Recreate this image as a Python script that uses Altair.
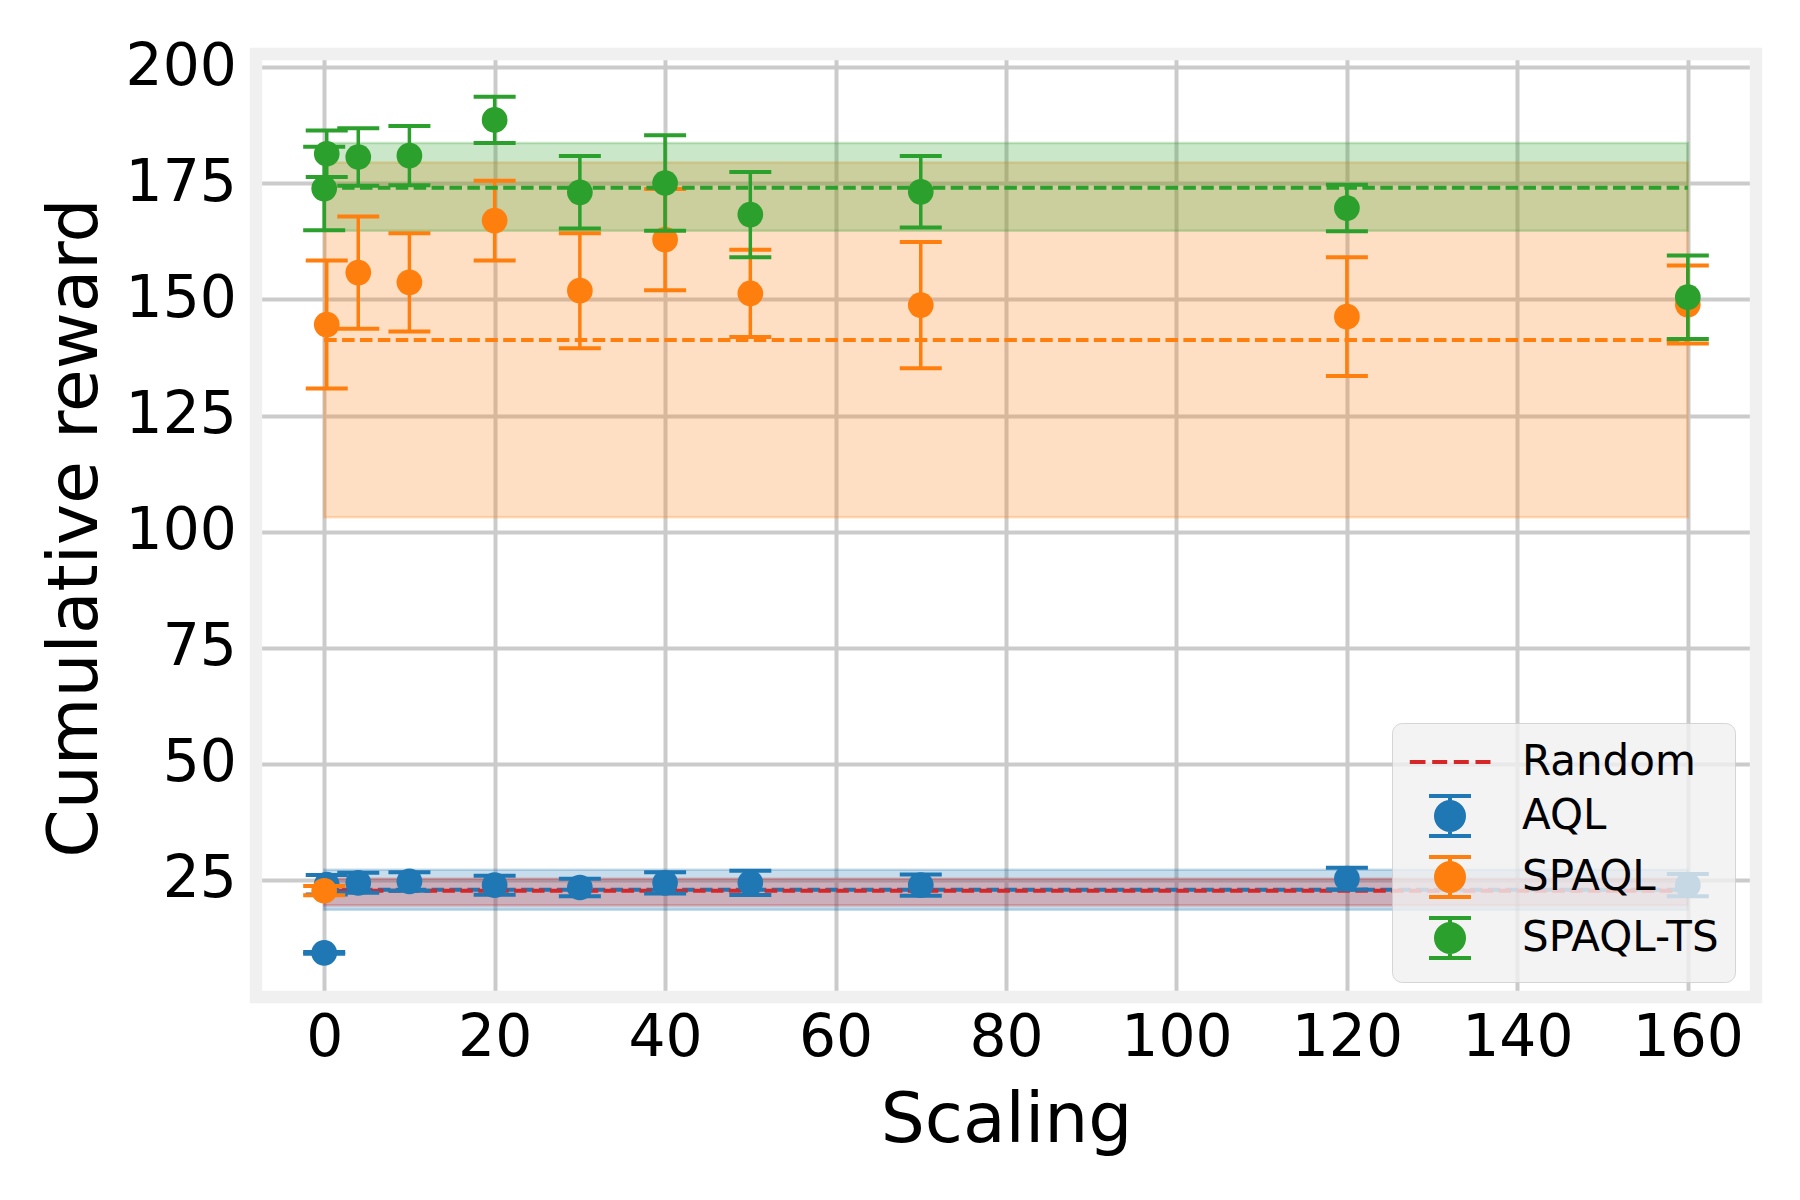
import altair as alt
import pandas as pd

# ---------------- data ----------------
scaling = [0, 0.3, 4, 10, 20, 30, 40, 50, 70, 120, 160]

aql_mean = [9.2, 23.9, 24.3, 24.6, 23.8, 23.3, 24.3, 24.3, 23.8, 25.2, 23.8]
aql_err = [0.2, 2.1, 2.15, 2.0, 2.05, 1.9, 2.3, 2.6, 2.3, 2.35, 2.4]

spaql_mean = [22.6, 144.6, 155.8, 153.7, 167.0, 151.9, 162.9, 151.3, 148.8, 146.3, 148.9]
spaql_err = [1.0, 13.8, 12.1, 10.6, 8.6, 12.4, 10.9, 9.4, 13.6, 12.8, 8.4]

spaqlts_mean = [173.9, 181.4, 180.7, 181.0, 188.7, 173.1, 175.1, 168.3, 173.2, 169.7, 150.5]
spaqlts_err = [9.0, 5.0, 6.2, 6.4, 5.0, 7.8, 10.3, 9.2, 7.7, 5.0, 9.0]

# overall levels (dashed lines) and shaded bands
level_names = ["AQL", "SPAQL", "SPAQL-TS", "Random"]
level_mean = [22.8, 141.25, 174.1, 22.6]
level_lo = [18.5, 103.1, 164.8, 19.45]
level_hi = [27.1, 179.5, 183.7, 25.2]

legend_names = ["Random", "AQL", "SPAQL", "SPAQL-TS"]
legend_colors = ["#d62728", "#1f77b4", "#ff7f0e", "#2ca02c"]

x_ticks = [0, 20, 40, 60, 80, 100, 120, 140, 160]
y_ticks = [25, 50, 75, 100, 125, 150, 175, 200]

# ---------------- styling ----------------
FONT = "DejaVu Sans"
W, H = 1500, 943
color_of = dict(zip(legend_names, legend_colors))

xscale = alt.Scale(domain=[-8, 168], nice=False, zero=False)
yscale = alt.Scale(domain=[-0.3, 202.9], nice=False, zero=False)

xaxis = alt.Axis(values=x_ticks, title="Scaling", grid=True, gridColor="#cbcbcb",
                 gridWidth=4, ticks=False, domain=False, labelFont=FONT,
                 labelFontSize=58.3, labelColor="black", labelPadding=12,
                 labelFlush=False, labelOverlap=False, titleFont=FONT,
                 titleFontSize=69.5, titleFontWeight="normal", titleColor="black",
                 titleY=144, titleBaseline="alphabetic")
yaxis = alt.Axis(values=y_ticks, title="Cumulative reward", grid=True,
                 gridColor="#cbcbcb", gridWidth=4, ticks=False, domain=False,
                 labelFont=FONT, labelFontSize=58.3, labelColor="black",
                 labelPadding=19.6, labelOverlap=False, titleFont=FONT,
                 titleFontSize=69.5, titleFontWeight="normal", titleColor="black",
                 titleX=-160, titleY=H / 2 + 2, titleAngle=270, titleAlign="center",
                 titleBaseline="alphabetic")


def X(f):
    return alt.X(f, type="quantitative", scale=xscale, axis=xaxis)


def Y(f):
    return alt.Y(f, type="quantitative", scale=yscale, axis=yaxis)


# ---------------- tables ----------------
series = {
    "AQL": (aql_mean, aql_err),
    "SPAQL": (spaql_mean, spaql_err),
    "SPAQL-TS": (spaqlts_mean, spaqlts_err),
}


def series_df(name):
    m, e = series[name]
    return pd.DataFrame({
        "scaling": scaling,
        "mean": m,
        "lo": [a - b for a, b in zip(m, e)],
        "hi": [a + b for a, b in zip(m, e)],
    })


levels = pd.DataFrame({"name": level_names, "mean": level_mean,
                       "lo": level_lo, "hi": level_hi,
                       "x0": scaling[0], "x1": scaling[-1]})


def level_df(name):
    return levels[levels["name"] == name]


layers = []

# bands
for name in ["AQL", "SPAQL", "SPAQL-TS", "Random"]:
    c = color_of[name]
    layers.append(
        alt.Chart(level_df(name)).mark_rect(fill=c, fillOpacity=0.25, stroke=c,
                                           strokeOpacity=0.25, strokeWidth=2.5)
        .encode(x=X("x0"), x2="x1", y=Y("lo"), y2="hi")
    )


def dashed(name, offset=0):
    return alt.Chart(level_df(name)).mark_rule(
        color=color_of[name], strokeWidth=4, strokeDash=[12.5, 5.4],
        strokeDashOffset=offset).encode(x=X("x0"), x2="x1", y=Y("mean"))


def errorbars(name):
    d = series_df(name)
    c = color_of[name]
    base = alt.Chart(d)
    return [
        base.mark_rule(color=c, strokeWidth=3.5).encode(x=X("scaling"), y=Y("lo"), y2="hi"),
        base.mark_tick(color=c, orient="horizontal", size=42, thickness=4, opacity=1)
            .encode(x=X("scaling"), y=Y("lo")),
        base.mark_tick(color=c, orient="horizontal", size=42, thickness=4, opacity=1)
            .encode(x=X("scaling"), y=Y("hi")),
        base.mark_circle(color=c, size=660, opacity=1).encode(x=X("scaling"), y=Y("mean")),
    ]


layers.append(dashed("AQL"))
layers.append(dashed("Random", offset=7))
layers += errorbars("AQL")
layers.append(dashed("SPAQL"))
layers += errorbars("SPAQL")
layers.append(dashed("SPAQL-TS"))
layers += errorbars("SPAQL-TS")

# frame (spines) drawn on top of the grid
frame = alt.Chart(pd.DataFrame({"k": [0]})).mark_rect(
    fillOpacity=0, stroke="#f0f0f0", strokeWidth=12.4).encode(
    x=alt.value(0), x2=alt.value(W), y=alt.value(0), y2=alt.value(H))
layers.append(frame)

# legend proxy layer
ebar = ("M-1,-0.95H1M0,-0.95V0.95M-1,0.95H1"
        "M0.667,0A0.667,0.667,0,1,1,-0.667,0A0.667,0.667,0,1,1,0.667,0Z")
dash = "M-1.914,0H-1.167M-0.848,0H-0.133M0.181,0H0.895M1.214,0H1.929"
legend_shapes = [dash, ebar, ebar, ebar]

leg = alt.Legend(title=None, orient="none", legendX=1136, legendY=669,
                 padding=16, rowPadding=5, symbolOffset=19, labelOffset=49,
                 symbolSize=1764, symbolStrokeWidth=4, labelFont=FONT,
                 labelFontSize=42, labelColor="black", labelLimit=500,
                 fillColor="rgba(240,240,240,0.8)",
                 strokeColor="rgba(204,204,204,0.8)", cornerRadius=10)
legend_layer = alt.Chart(pd.DataFrame({"series": legend_names})).mark_point(
    filled=True, size=1764, strokeWidth=4, opacity=1).encode(
    fill=alt.Fill("series:N", scale=alt.Scale(domain=legend_names, range=legend_colors), legend=leg),
    stroke=alt.Stroke("series:N", scale=alt.Scale(domain=legend_names, range=legend_colors), legend=leg),
    shape=alt.Shape("series:N", scale=alt.Scale(domain=legend_names, range=legend_shapes), legend=leg),
).transform_filter("false")
layers.append(legend_layer)

chart = alt.layer(*layers).properties(
    width=W, height=H,
    autosize=alt.AutoSizeParams(type="none"),
    padding={"left": 248, "top": 46, "right": 30, "bottom": 190},
    background="white",
).configure_view(stroke=None).configure(font=FONT)

chart.save("out.html", embed_options={"renderer": "svg", "actions": False})
